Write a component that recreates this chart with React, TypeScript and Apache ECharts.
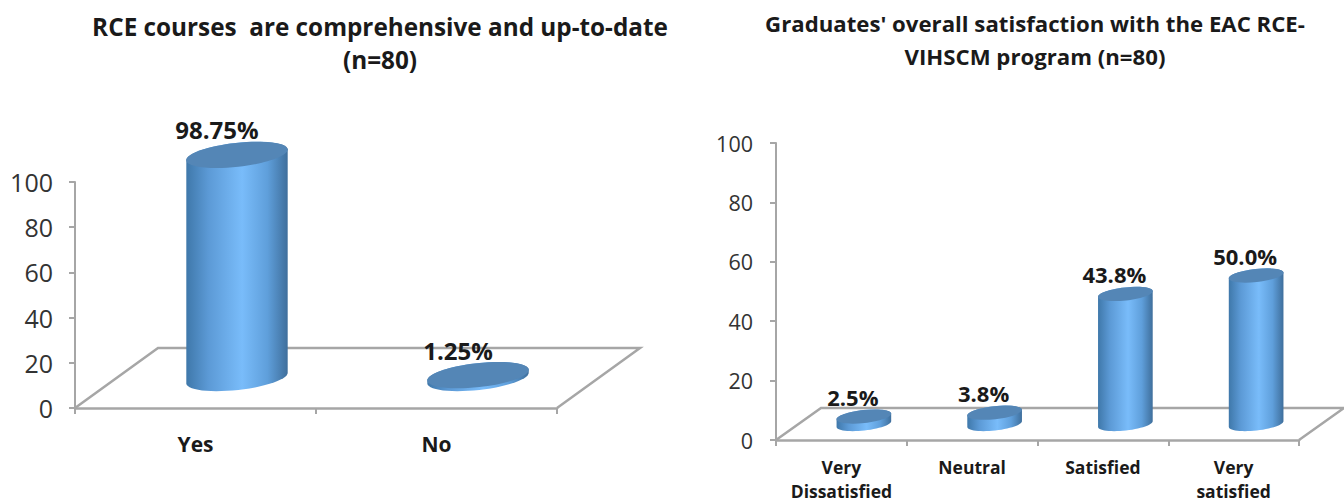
import React, { useEffect, useRef } from "react";
import * as echarts from "echarts";

const FONT = '"Open Sans", sans-serif';

const courseCategories = ["Yes", "No"];
const courseValues = [98.75, 1.25];
const courseLabels = ["98.75%", "1.25%"];

const satisfactionCategories = ["Very\nDissatisfied", "Neutral", "Satisfied", "Very\nsatisfied"];
const satisfactionValues = [2.5, 3.8, 43.8, 50.0];
const satisfactionLabels = ["2.5%", "3.8%", "43.8%", "50.0%"];

const axisTicks = [0, 20, 40, 60, 80, 100];
const AXIS_GREY = "#a6a6a6";

type Look = {
  depthX: number;
  depthY: number;
  rx: number;
  ry: number;
  tilt: number;
  labelDx: number;
  labelDy: number;
  labelSize: number;
};

// Point on a tilted ellipse, with the right-hand end raised.
const ellipsePoint = (cx: number, cy: number, rx: number, ry: number, tilt: number, a: number) => {
  const px = rx * Math.cos(a);
  const py = ry * Math.sin(a);
  return [cx + px * Math.cos(tilt) + py * Math.sin(tilt), cy - px * Math.sin(tilt) + py * Math.cos(tilt)];
};

// Cylinder body outline: lower half of the base, then the upper half of the top.
const cylinderOutline = (cx: number, topY: number, baseY: number, l: Look) => {
  const pts: number[][] = [];
  const steps = 28;
  for (let i = 0; i <= steps; i++) pts.push(ellipsePoint(cx, baseY, l.rx, l.ry, l.tilt, (Math.PI * i) / steps));
  for (let i = 0; i <= steps; i++) pts.push(ellipsePoint(cx, topY, l.rx, l.ry, l.tilt, Math.PI + (Math.PI * i) / steps));
  return pts;
};

const bodyFill = () =>
  new echarts.graphic.LinearGradient(0, 0, 1, 0, [
    { offset: 0, color: "#3f78aa" },
    { offset: 0.22, color: "#5c9ad6" },
    { offset: 0.55, color: "#79bcfa" },
    { offset: 0.8, color: "#5f9fdb" },
    { offset: 1, color: "#3f6f9c" },
  ]);

const cylinderSeries = (labels: string[], values: number[], l: Look) => ({
  type: "custom",
  coordinateSystem: "cartesian2d",
  clip: false,
  z: 5,
  data: values.map((v, i) => [i, v]),
  renderItem: (_params: any, api: any) => {
    const i = api.value(0);
    const top = api.coord([i, api.value(1)]);
    const base = api.coord([i, 0]);
    const cx = top[0] + l.depthX / 2;
    const topY = top[1] + l.depthY / 2;
    const baseY = base[1] + l.depthY / 2;
    return {
      type: "group",
      children: [
        {
          type: "polygon",
          shape: { points: cylinderOutline(cx, topY, baseY, l) },
          style: { fill: bodyFill(), stroke: null },
        },
        {
          type: "ellipse",
          x: cx,
          y: topY,
          rotation: l.tilt,
          shape: { cx: 0, cy: 0, rx: l.rx, ry: l.ry },
          style: { fill: "#5486b6" },
        },
        {
          type: "text",
          x: cx + l.labelDx,
          y: topY + l.labelDy,
          style: {
            text: labels[i],
            fill: "#1a1a1a",
            font: `bold ${l.labelSize}px ${FONT}`,
            align: "center",
            verticalAlign: "middle",
          },
        },
      ],
    };
  },
});

// Receding floor outline behind the category axis line.
const floorSeries = (l: Look) => ({
  type: "custom",
  coordinateSystem: "cartesian2d",
  clip: false,
  z: 1,
  silent: true,
  data: [[0, 0]],
  renderItem: (params: any) => {
    const { x, y, width, height } = params.coordSys;
    const bottom = y + height;
    return {
      type: "polyline",
      shape: {
        points: [
          [x, bottom],
          [x + l.depthX, bottom + l.depthY],
          [x + width + l.depthX, bottom + l.depthY],
          [x + width, bottom],
        ],
      },
      style: { stroke: AXIS_GREY, lineWidth: 2.5, fill: null },
    };
  },
});

const categoryAxis = (gridIndex: number, data: string[], fontSize: number, margin: number, lineHeight: number) => ({
  type: "category",
  gridIndex,
  data,
  boundaryGap: true,
  axisLine: { show: true, lineStyle: { color: AXIS_GREY, width: 2.5 } },
  axisTick: { show: true, length: 6, alignWithLabel: false, lineStyle: { color: AXIS_GREY, width: 2 } },
  axisLabel: {
    color: "#1a1a1a",
    fontFamily: FONT,
    fontWeight: "bold",
    fontSize,
    margin,
    lineHeight,
    interval: 0,
  },
});

const valueAxis = (gridIndex: number, fontSize: number, margin: number) => ({
  type: "value",
  gridIndex,
  min: axisTicks[0],
  max: axisTicks[axisTicks.length - 1],
  interval: axisTicks[1] - axisTicks[0],
  splitLine: { show: false },
  axisLine: { show: true, lineStyle: { color: AXIS_GREY, width: 2 } },
  axisTick: { show: true, length: 6, lineStyle: { color: AXIS_GREY, width: 2 } },
  axisLabel: { color: "#333333", fontFamily: FONT, fontSize, margin },
});

const leftLook: Look = { depthX: 83, depthY: -60, rx: 51, ry: 12, tilt: 0.11, labelDx: -20, labelDy: -25, labelSize: 24 };
const rightLook: Look = { depthX: 45, depthY: -32, rx: 27.5, ry: 6.5, tilt: 0.11, labelDx: -11, labelDy: -20, labelSize: 22 };

export default function App() {
  const ref = useRef<HTMLDivElement>(null);

  useEffect(() => {
    const chart = echarts.init(ref.current!, null, { renderer: "svg" });
    chart.setOption({
      animation: false,
      backgroundColor: "#ffffff",
      title: [
        {
          text: "RCE courses  are comprehensive and up-to-date\n(n=80)",
          left: 375,
          top: 5,
          textAlign: "center",
          textStyle: { fontFamily: FONT, fontWeight: "bold", fontSize: 24.3, lineHeight: 33, color: "#1a1a1a" },
        },
        {
          text: "Graduates' overall satisfaction with the EAC RCE-\nVIHSCM program (n=80)",
          left: 1030,
          top: 2,
          textAlign: "center",
          textStyle: { fontFamily: FONT, fontWeight: "bold", fontSize: 22.2, lineHeight: 33, color: "#1a1a1a" },
        },
      ],
      grid: [
        { left: 75, top: 182, width: 482, height: 226, outerBoundsMode: "none" },
        { left: 776, top: 143, width: 523, height: 297, outerBoundsMode: "none" },
      ],
      xAxis: [
        categoryAxis(0, courseCategories, 21, 22, 27),
        categoryAxis(1, satisfactionCategories, 17.5, 15, 24),
      ],
      yAxis: [valueAxis(0, 25, 22), valueAxis(1, 21.5, 23)],
      series: [
        { ...floorSeries(leftLook), xAxisIndex: 0, yAxisIndex: 0 },
        { ...cylinderSeries(courseLabels, courseValues, leftLook), xAxisIndex: 0, yAxisIndex: 0 },
        { ...floorSeries(rightLook), xAxisIndex: 1, yAxisIndex: 1 },
        { ...cylinderSeries(satisfactionLabels, satisfactionValues, rightLook), xAxisIndex: 1, yAxisIndex: 1 },
      ],
    });
    return () => chart.dispose();
  }, []);

  return <div ref={ref} style={{ position: "absolute", left: 0, top: 0, width: 1344, height: 503 }} />;
}
